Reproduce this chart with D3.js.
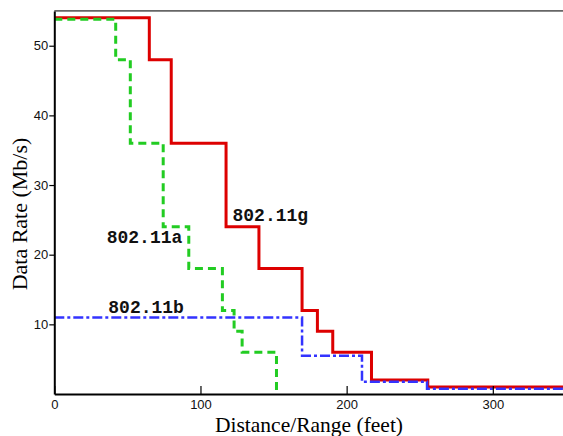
<!DOCTYPE html>
<html>
<head>
<meta charset="utf-8">
<script src="https://cdn.jsdelivr.net/npm/d3@7"></script>
<style>
  body { margin: 0; background: #fff; }
  svg { display: block; }
</style>
</head>
<body>
<div id="chart"></div>
<script>
// step breakpoints (feet) and data rate (Mb/s)
const gDist = [0, 65, 80, 117.5, 140, 169.5, 180, 190.5, 217, 255.5, 350];
const gRate = [54, 48, 36, 24, 18, 12, 9, 6, 2, 1, 1];
const aDist = [0, 42, 52, 74.5, 92, 115, 123, 128.5, 152];
const aRate = [53.8, 48, 36, 24, 18, 12, 9, 6, 0];
const bDist = [0, 169.5, 210.5, 255, 350];
const bRate = [11, 5.5, 1.75, 0.75, 0.75];

const xTicks = [0, 100, 200, 300];
const yTicks = [10, 20, 30, 40, 50];
const seriesNames = ["802.11g", "802.11a", "802.11b"];

const W = 563, H = 436;
const svg = d3.select("#chart").append("svg").attr("width", W).attr("height", H);

const x = d3.scaleLinear().domain([0, 350]).range([54.3, 565.9]);
const y = d3.scaleLinear().domain([0, 55]).range([394, 10.9]);

// top frame line
svg.append("line")
  .attr("x1", x(0)).attr("x2", W)
  .attr("y1", y(55)).attr("y2", y(55))
  .attr("stroke", "#666").attr("stroke-width", 1.6);

const line = d3.line()
  .curve(d3.curveStepAfter)
  .x(d => x(d[0]))
  .y(d => y(d[1]));

const series = [
  { dist: gDist, rate: gRate, color: "#dd0000", width: 3, dash: null },
  { dist: aDist, rate: aRate, color: "#22cc22", width: 3, dash: "8,5" },
  { dist: bDist, rate: bRate, color: "#3333ff", width: 2.5, dash: "10,3,3,3" }
];

series.forEach(s => {
  svg.append("path")
    .attr("d", line(d3.zip(s.dist, s.rate)))
    .attr("fill", "none")
    .attr("stroke", s.color)
    .attr("stroke-width", s.width)
    .attr("stroke-dasharray", s.dash);
});

// x axis: ticks point inward
const xg = svg.append("g").attr("transform", `translate(0,${y(0)})`);
xg.call(d3.axisBottom(x).tickValues(d3.range(0, 351, 20)).tickSize(-4).tickSizeOuter(0).tickFormat(""));
xg.call(d3.axisBottom(x).tickValues(xTicks).tickSize(-8).tickSizeOuter(0).tickPadding(6));

// y axis: ticks point outward
const yg = svg.append("g").attr("transform", `translate(${x(0)},0)`);
yg.call(d3.axisLeft(y).tickValues(d3.range(2, 55, 2)).tickSize(4).tickSizeOuter(0).tickFormat(""));
yg.call(d3.axisLeft(y).tickValues(yTicks).tickSize(5).tickSizeOuter(0).tickPadding(1));

svg.selectAll(".domain").attr("stroke", "#000").attr("stroke-width", 2);
svg.selectAll(".tick line").attr("stroke", "#000").attr("stroke-width", 1.2);
svg.selectAll(".tick text")
  .attr("font-family", "Liberation Sans, Arial, sans-serif")
  .attr("font-size", 13)
  .attr("fill", "#111");

// axis titles
svg.append("text")
  .attr("x", 309).attr("y", 431.5)
  .attr("text-anchor", "middle")
  .attr("font-family", "Liberation Serif, Times New Roman, serif")
  .attr("font-size", 21.5)
  .text("Distance/Range (feet)");

svg.append("text")
  .attr("transform", "translate(27,214) rotate(-90)")
  .attr("text-anchor", "middle")
  .attr("font-family", "Liberation Serif, Times New Roman, serif")
  .attr("font-size", 22)
  .text("Data Rate (Mb/s)");

// series labels
const labelPos = [[232.5, 220.5], [106.7, 243.3], [108.3, 312.7]];
seriesNames.forEach((n, i) => {
  svg.append("text")
    .attr("x", labelPos[i][0]).attr("y", labelPos[i][1])
    .attr("font-family", "Courier New, Liberation Mono, monospace")
    .attr("font-weight", "bold")
    .attr("font-size", 18)
    .attr("fill", "#111")
    .text(n);
});
</script>
</body>
</html>
